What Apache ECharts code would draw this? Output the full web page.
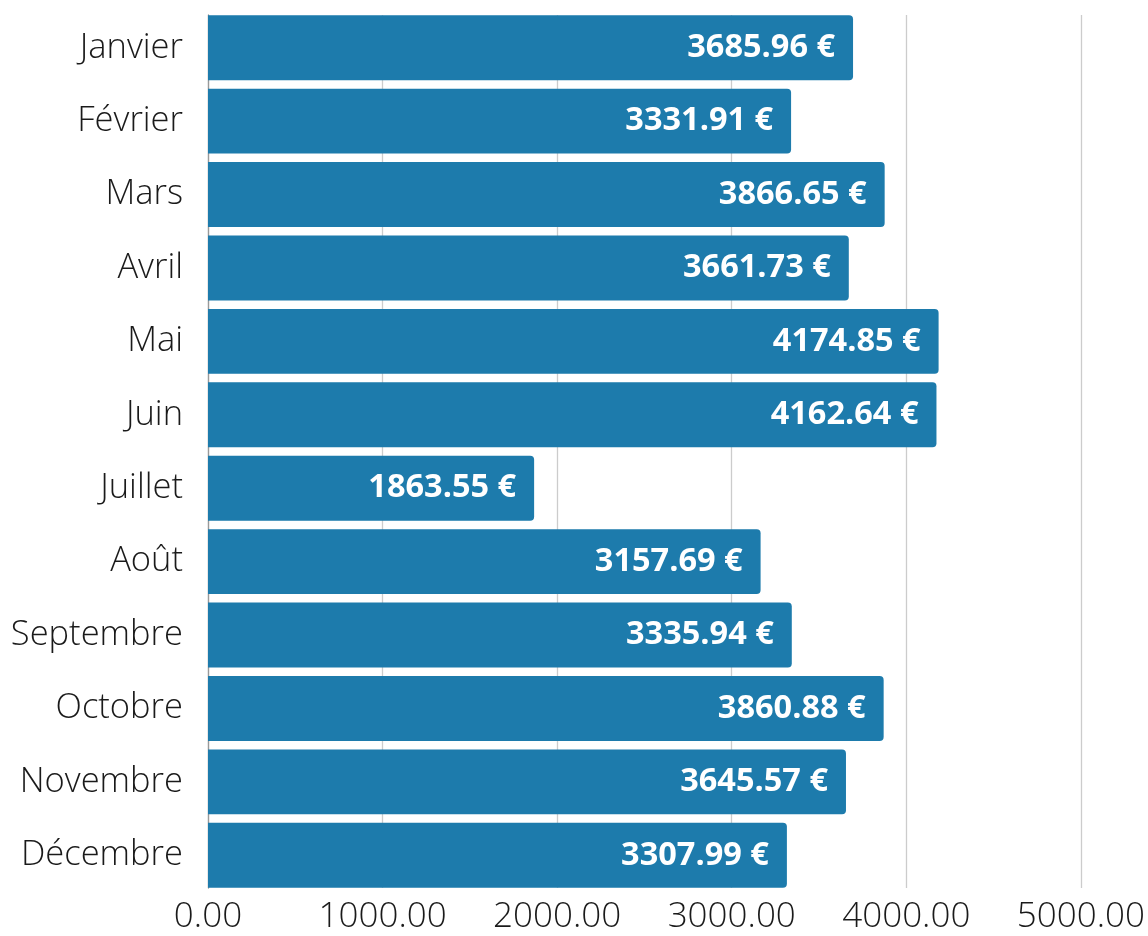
<!DOCTYPE html>
<html>
<head>
<meta charset="utf-8">
<script src="https://cdn.jsdelivr.net/npm/echarts@6/dist/echarts.min.js"></script>
<style>
  html, body { margin: 0; padding: 0; background: #fff; }
  #chart { width: 1148px; height: 936px; }
</style>
</head>
<body>
<div id="chart"></div>
<script>
// mois et montants (€)
var mois = ['Janvier', 'Février', 'Mars', 'Avril', 'Mai', 'Juin', 'Juillet',
            'Août', 'Septembre', 'Octobre', 'Novembre', 'Décembre'];
var montants = [3685.96, 3331.91, 3866.65, 3661.73, 4174.85, 4162.64, 1863.55,
                3157.69, 3335.94, 3860.88, 3645.57, 3307.99];

var myChart = echarts.init(document.getElementById('chart'));

var option = {
    animation: false,
    // grille 0 : barres + libellés des mois ; grille 1 : lignes de repère et axe x
    grid: [
        { left: 208, right: 65, top: 11, bottom: 44 },
        { left: 208, right: 65, top: 15, bottom: 48 }
    ],
    xAxis: [{
        gridIndex: 0,
        type: 'value',
        min: 0,
        max: 5000,
        interval: 1000,
        show: false
    }, {
        gridIndex: 1,
        type: 'value',
        min: 0,
        max: 5000,
        interval: 1000,
        axisLine: { show: false },
        axisTick: { show: false },
        splitLine: { lineStyle: { color: '#cccccc', width: 1.3 } },
        axisLabel: {
            margin: 12,
            fontFamily: 'Open Sans',
            fontWeight: 300,
            fontSize: 35,
            color: '#1a1a1a',
            formatter: function (v) { return v.toFixed(2); }
        }
    }],
    yAxis: [{
        gridIndex: 0,
        type: 'category',
        inverse: true,
        data: mois,
        axisLine: { show: false },
        axisTick: { show: false },
        axisLabel: {
            margin: 25,
            fontFamily: 'Open Sans',
            fontWeight: 300,
            fontSize: 34.5,
            color: '#1a1a1a'
        }
    }, {
        gridIndex: 1,
        type: 'value',
        min: 0,
        max: 1,
        axisLine: { show: true, lineStyle: { color: '#999', width: 1.3 } },
        axisTick: { show: false },
        axisLabel: { show: false },
        splitLine: { show: false }
    }],
    series: [{
        type: 'bar',
        xAxisIndex: 0,
        yAxisIndex: 0,
        data: montants,
        barCategoryGap: '11.5%',
        itemStyle: { color: '#1d7bac', borderRadius: [0, 4, 4, 0] },
        label: {
            show: true,
            position: 'insideRight',
            distance: 18,
            fontFamily: 'Open Sans',
            fontWeight: 'bold',
            fontSize: 32.5,
            color: '#fff',
            formatter: function (p) { return p.value.toFixed(2) + ' €'; }
        }
    }]
};

myChart.setOption(option);
</script>
</body>
</html>
